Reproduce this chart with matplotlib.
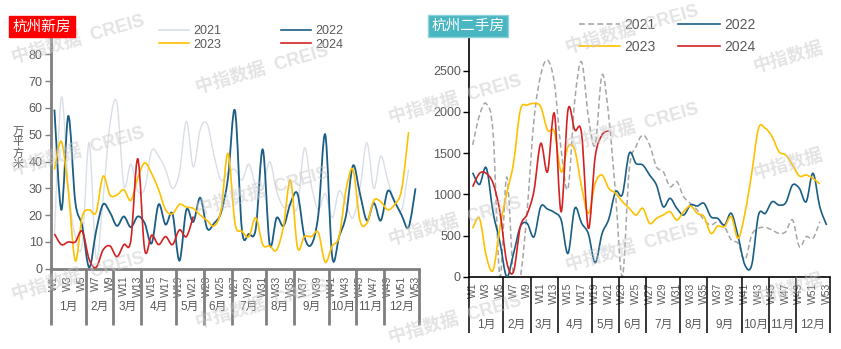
import numpy as np
import matplotlib
matplotlib.use('Agg')
import matplotlib.pyplot as plt
from matplotlib.path import Path
from matplotlib.patches import PathPatch
from matplotlib.lines import Line2D
import matplotlib.transforms as mtrans

plt.rcParams['font.family'] = ['Liberation Sans', 'Noto Sans CJK SC', 'DejaVu Sans']
plt.rcParams['axes.unicode_minus'] = False

# ---------------- 数据（周度成交面积 / 套数） ----------------
weeks = [f'W{i}' for i in range(1, 54)]
months = ['1月', '2月', '3月', '4月', '5月', '6月', '7月', '8月', '9月', '10月', '11月', '12月']
month_weeks = [5, 4, 4, 5, 4, 4, 5, 4, 5, 4, 4, 5]

# 杭州新房（万平方米）
new_2021 = [13, 64, 30, 12, 9, 47, 4, 26, 54, 62, 31, 39, 29, 30, 44, 42, 37, 30, 36, 55,
            38, 52, 54, 42, 33, 36, 37, 33, 39, 31, 30, 40, 29, 23, 24, 23, 45, 31, 22, 28,
            19, 29, 24, 19, 30, 47, 30, 42, 33, 25, 22, 37]
new_2022 = [59.4, 22, 57, 25, 16, 0.5, 14, 24, 21, 16, 19.5, 15.5, 19.5, 17, 9.5, 24, 16.5,
            20.5, 3, 22, 17.5, 26.5, 15, 17, 21, 34, 59, 14.5, 13, 15, 44.5, 9, 19, 16, 24.5,
            28, 12, 9, 20, 50, 4.5, 12, 20, 38.5, 28, 18, 24.5, 18, 29, 25, 20, 15.5, 30]
new_2023 = [37, 47.5, 29, 3, 19.5, 22, 21, 34.5, 27.5, 27.5, 29.5, 25.5, 34, 39.5, 35.5,
            29.5, 22, 20.5, 24, 23, 22.5, 20, 18, 16, 22, 43, 17, 14, 12, 19, 9, 8.5, 7, 16,
            33, 8, 12, 12, 13.5, 2.5, 8.5, 12, 29.5, 37, 18, 17, 25.5, 25, 22, 24, 29.5, 51]
new_2024 = [13, 9, 10, 10, 14, 3.5, 0.5, 7, 8.5, 4.5, 9, 10.5, 41, 7, 12.5, 9, 12, 9, 14.5,
            12, 19.5]

# 杭州二手房（套）
sec_2021 = [1600, 1960, 2100, 1740, 0, 1210, 0, 0, 800, 1900, 2450, 2630, 2350, 1540, 1070,
            2140, 2610, 1940, 1600, 2450, 1940, 1000, 0, 1300, 1580, 1720, 1600, 1335, 1275,
            1093, 1153, 971, 890, 809, 688, 627, 668, 607, 445, 405, 202, 506, 587, 599, 566,
            526, 546, 688, 364, 486, 465, 668]
sec_2022 = [1262, 1120, 1320, 780, 420, 0, 280, 607, 647, 485, 850, 820, 780, 688, 283, 829,
            650, 520, 170, 520, 700, 1031, 1000, 1497, 1375, 1355, 1234, 1113, 850, 951, 830,
            749, 870, 858, 890, 728, 708, 627, 769, 486, 142, 142, 749, 769, 910, 870, 898,
            1113, 1072, 910, 1255, 850, 627]
sec_2023 = [587, 708, 250, 80, 600, 1010, 1380, 2022, 2083, 2103, 2063, 1780, 1760, 1274,
            1578, 1537, 1092, 769, 1133, 1234, 1072, 1012, 911, 830, 749, 830, 647, 708, 749,
            789, 688, 789, 858, 769, 728, 526, 615, 607, 728, 465, 769, 1255, 1801, 1801,
            1700, 1518, 1477, 1356, 1222, 1234, 1194, 1125]
sec_2024 = [1092, 1254, 1254, 1133, 790, 180, 61, 607, 760, 1040, 1618, 1274, 1982, 789,
            2022, 1780, 1739, 587, 1456, 1719, 1772]

C21_NEW = '#D9DEE7'
C21_SEC = '#A6A6A6'
C22 = '#1B5E84'
C23 = '#FFC000'
C24 = '#D42222'
GRAY_TXT = '#595959'


def smooth_line(ax, y, **kw):
    """类似 Excel 平滑线：Catmull-Rom 转三次贝塞尔，用 Path 画。"""
    y = np.asarray(y, dtype=float)
    x = np.arange(len(y), dtype=float)
    pts = np.column_stack([x, y])
    verts = [pts[0]]
    codes = [Path.MOVETO]
    for i in range(len(pts) - 1):
        p0 = pts[max(i - 1, 0)]
        p1 = pts[i]
        p2 = pts[i + 1]
        p3 = pts[min(i + 2, len(pts) - 1)]
        c1 = p1 + (p2 - p0) / 6.0
        c2 = p2 - (p3 - p1) / 6.0
        verts += [c1, c2, p2]
        codes += [Path.CURVE4] * 3
    patch = PathPatch(Path(verts, codes), fill=False, **kw)
    ax.add_patch(patch)


def month_axis(ax, sep_color, sep_lw, sep_bottom, label_y, tick_pad):
    n = len(weeks)
    ax.set_xlim(-0.5, n - 0.5)
    ax.set_xticks(np.arange(0, n, 2))
    ax.set_xticklabels(weeks[::2], rotation=90, fontsize=7.5, color=GRAY_TXT)
    ax.tick_params(axis='x', length=0, pad=tick_pad)
    trans = mtrans.blended_transform_factory(ax.transData, ax.transAxes)
    edges = np.concatenate([[0], np.cumsum(month_weeks)]) - 0.5
    for e in edges:
        ax.plot([e, e], [0, sep_bottom], transform=trans, color=sep_color,
                lw=sep_lw, clip_on=False, solid_capstyle='butt')
    for m, a, b in zip(months, edges[:-1], edges[1:]):
        ax.text((a + b) / 2, label_y, m, transform=trans, ha='center', va='center',
                fontsize=8.5, color=GRAY_TXT)


fig = plt.figure(figsize=(8.41, 3.49), dpi=100)

# ---------------- 左图：杭州新房 ----------------
ax1 = fig.add_axes([0.0606, 0.230, 0.4376, 0.691])
ax1.set_facecolor('none')
smooth_line(ax1, new_2021, color=C21_NEW, lw=1.0, zorder=2)
smooth_line(ax1, new_2022, color=C22, lw=1.3, zorder=3)
smooth_line(ax1, new_2023, color=C23, lw=1.2, zorder=3)
smooth_line(ax1, new_2024, color=C24, lw=1.2, zorder=4)
ax1.set_ylim(0, 90)
ax1.set_yticks(range(0, 90, 10))
ax1.tick_params(axis='y', length=4, width=1, color='#7F7F7F', labelsize=9,
                labelcolor=GRAY_TXT, pad=2)
for s in ['top', 'right']:
    ax1.spines[s].set_visible(False)
for s in ['left', 'bottom']:
    ax1.spines[s].set_color('#7F7F7F')
    ax1.spines[s].set_linewidth(2)
month_axis(ax1, '#7F7F7F', 2, -0.233, -0.158, 5.0)
fig.text(18 / 841, 1 - 148 / 349, '\n'.join('万平方米'), ha='center', va='center',
         fontsize=8, color=GRAY_TXT, linespacing=1.05)

h1 = [Line2D([], [], color=C21_NEW, lw=1.2), Line2D([], [], color=C23, lw=1.2),
      Line2D([], [], color=C22, lw=1.2), Line2D([], [], color=C24, lw=1.2)]
ax1.legend(h1, ['2021', '2023', '2022', '2024'], ncol=2, loc='center',
           bbox_to_anchor=(251 / 841, 1 - 38 / 349), bbox_transform=fig.transFigure,
           frameon=False, fontsize=9, handlelength=2.4, handletextpad=0.35,
           columnspacing=4.8, labelspacing=0.12, labelcolor=GRAY_TXT)

# ---------------- 右图：杭州二手房 ----------------
ax2 = fig.add_axes([0.558, 0.2072, 0.4289, 0.708])
ax2.set_facecolor('none')
smooth_line(ax2, sec_2021, color=C21_SEC, lw=1.1, linestyle=(0, (3.5, 2)), zorder=2)
smooth_line(ax2, sec_2022, color=C22, lw=1.2, zorder=3)
smooth_line(ax2, sec_2023, color=C23, lw=1.2, zorder=3)
smooth_line(ax2, sec_2024, color=C24, lw=1.2, zorder=4)
ax2.set_ylim(0, 3000)
ax2.set_yticks(range(0, 3000, 500))
ax2.tick_params(axis='y', length=4, width=1, color='black', labelsize=9,
                labelcolor=GRAY_TXT, pad=2)
for s in ['top', 'right']:
    ax2.spines[s].set_visible(False)
for s in ['left', 'bottom']:
    ax2.spines[s].set_color('black')
    ax2.spines[s].set_linewidth(1.2)
month_axis(ax2, 'black', 1.1, -0.228, -0.195, 4.3)

h2 = [Line2D([], [], color=C21_SEC, lw=1.2, linestyle=(0, (3.5, 2))),
      Line2D([], [], color=C23, lw=1.2),
      Line2D([], [], color=C22, lw=1.2), Line2D([], [], color=C24, lw=1.2)]
ax2.legend(h2, ['2021', '2023', '2022', '2024'], ncol=2, loc='center',
           bbox_to_anchor=(667 / 841, 1 - 36 / 349), bbox_transform=fig.transFigure,
           frameon=False, fontsize=10, handlelength=3.0, handletextpad=0.3,
           columnspacing=1.6, labelspacing=0.55, labelcolor=GRAY_TXT)

# ---------------- 标题色块 ----------------
fig.text(42 / 841, 1 - 26.5 / 349, '杭州新房', ha='center', va='center', fontsize=10.5,
         color='white', zorder=10,
         bbox=dict(boxstyle='square,pad=0.25', facecolor='#FF0000', edgecolor='#FF0000'))
fig.text(468 / 841, 1 - 26 / 349, '杭州二手房', ha='center', va='center', fontsize=10.5,
         color='white', zorder=10,
         bbox=dict(boxstyle='square,pad=0.25', facecolor='#4AB6C2', edgecolor='#8FD3DA'))

# ---------------- 水印 ----------------
wm_pos = [(78, 40), (78, 152), (78, 277), (262, 70), (262, 192), (262, 305),
          (455, 100), (455, 222), (455, 320), (632, 30), (632, 128), (632, 248)]
for x, y in wm_pos:
    fig.text(x / 841, 1 - y / 349, '中指数据  CREIS', ha='center', va='center',
             fontsize=13, fontweight='bold', color='#C8C8C8', alpha=0.5,
             rotation=16, zorder=8)
for y in [58, 165, 290]:
    fig.text(788 / 841, 1 - y / 349, '中指数据', ha='center', va='center',
             fontsize=13, fontweight='bold', color='#C8C8C8', alpha=0.5,
             rotation=16, zorder=8)

fig.savefig('out.png', dpi=100)
